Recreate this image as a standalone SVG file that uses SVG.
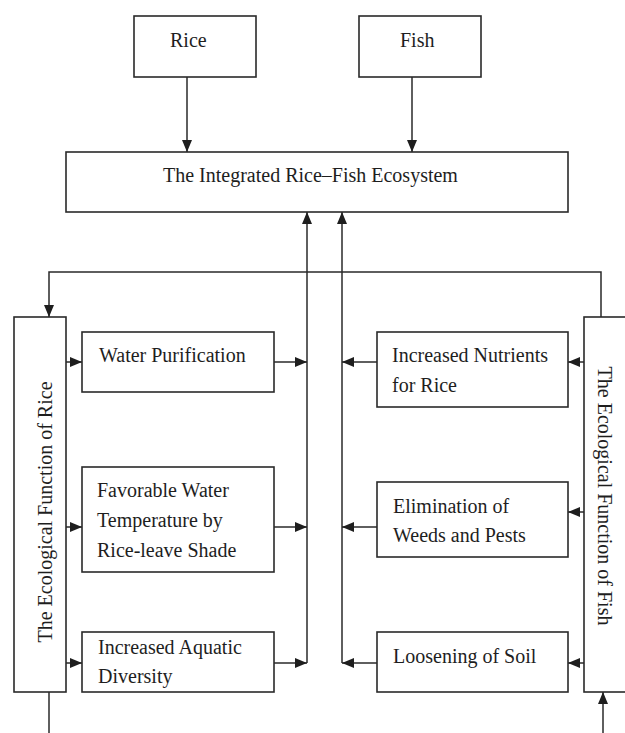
<svg xmlns="http://www.w3.org/2000/svg" width="625" height="733" viewBox="0 0 625 733">
<style>
.box{fill:#fff;stroke:#2a2a2a;stroke-width:1.6}
.t{font-family:"Liberation Serif","Times New Roman",serif;font-size:20px;fill:#1e1e1e}
.c{fill:none;stroke:#2a2a2a;stroke-width:1.5}
</style>
<defs>
<marker id="ah" viewBox="0 0 12 10" refX="12" refY="5" markerWidth="12" markerHeight="10" markerUnits="userSpaceOnUse" orient="auto">
<path d="M0,0 L12,5 L0,10 Z" fill="#1e1e1e"/>
</marker>
</defs>
<rect width="625" height="733" fill="#fff"/>
<g id="connectors">
<path class="c" d="M187,77 V152" marker-end="url(#ah)"/>
<path class="c" d="M412,77 V152" marker-end="url(#ah)"/>
<path class="c" d="M307,663 V212" marker-end="url(#ah)"/>
<path class="c" d="M342,663 V212" marker-end="url(#ah)"/>
<path class="c" d="M601,317 V272 H49 V317" marker-end="url(#ah)"/>
<path class="c" d="M49,692 V733"/>
<path class="c" d="M603,733 V692" marker-end="url(#ah)"/>
<path class="c" d="M66,362 H82" marker-end="url(#ah)"/>
<path class="c" d="M66,527 H82" marker-end="url(#ah)"/>
<path class="c" d="M66,663 H82" marker-end="url(#ah)"/>
<path class="c" d="M274,362 H307" marker-end="url(#ah)"/>
<path class="c" d="M274,527 H307" marker-end="url(#ah)"/>
<path class="c" d="M274,663 H307" marker-end="url(#ah)"/>
<path class="c" d="M584,362 H568" marker-end="url(#ah)"/>
<path class="c" d="M584,512 H568" marker-end="url(#ah)"/>
<path class="c" d="M584,663 H568" marker-end="url(#ah)"/>
<path class="c" d="M377,362 H342" marker-end="url(#ah)"/>
<path class="c" d="M377,527 H342" marker-end="url(#ah)"/>
<path class="c" d="M377,663 H342" marker-end="url(#ah)"/>
</g>
<g id="rice">
<rect class="box" x="134" y="16" width="122" height="61"/>
<text class="t" x="170" y="47">Rice</text>
</g>
<g id="fish">
<rect class="box" x="359" y="16" width="122" height="61"/>
<text class="t" x="400" y="47">Fish</text>
</g>
<g id="ecosystem">
<rect class="box" x="66" y="152" width="502" height="60"/>
<text class="t" x="163" y="182">The Integrated Rice–Fish Ecosystem</text>
</g>
<g id="rice-function">
<rect class="box" x="14" y="317" width="52" height="375"/>
<text class="t" transform="translate(45,512) rotate(-90)" text-anchor="middle" dominant-baseline="central">The Ecological Function of Rice</text>
</g>
<g id="fish-function">
<rect class="box" x="584" y="317" width="60" height="375"/>
<text class="t" transform="translate(605,496) rotate(90)" text-anchor="middle" dominant-baseline="central">The Ecological Function of Fish</text>
</g>
<g id="water-purification">
<rect class="box" x="82" y="332" width="192" height="60"/>
<text class="t" x="99" y="362">Water Purification</text>
</g>
<g id="water-temperature">
<rect class="box" x="82" y="467" width="192" height="105"/>
<text class="t" x="97" y="497">Favorable Water</text>
<text class="t" x="97" y="527">Temperature by</text>
<text class="t" x="97" y="557">Rice-leave Shade</text>
</g>
<g id="aquatic-diversity">
<rect class="box" x="82" y="632" width="192" height="60"/>
<text class="t" x="98" y="654">Increased Aquatic</text>
<text class="t" x="98" y="683">Diversity</text>
</g>
<g id="nutrients">
<rect class="box" x="377" y="332" width="191" height="75"/>
<text class="t" x="392" y="362">Increased Nutrients</text>
<text class="t" x="392" y="392">for Rice</text>
</g>
<g id="weeds-pests">
<rect class="box" x="377" y="482" width="191" height="75"/>
<text class="t" x="393" y="513">Elimination of</text>
<text class="t" x="393" y="542">Weeds and Pests</text>
</g>
<g id="soil">
<rect class="box" x="377" y="632" width="191" height="60"/>
<text class="t" x="393" y="663">Loosening of Soil</text>
</g>
</svg>
